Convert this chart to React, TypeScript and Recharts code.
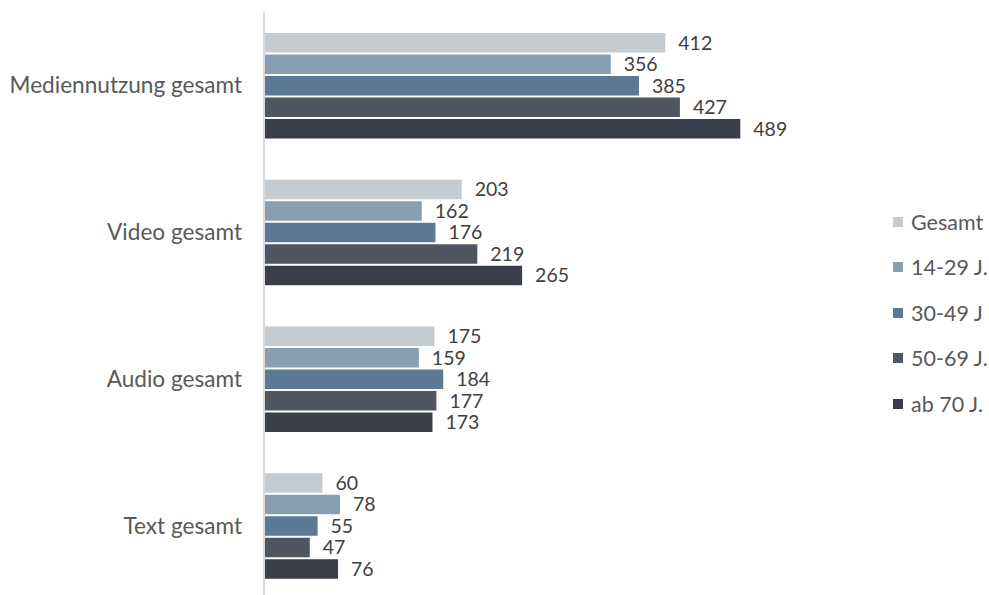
import { BarChart, Bar, XAxis, YAxis, Legend, LabelList } from 'recharts';

const categories = ['Mediennutzung gesamt', 'Video gesamt', 'Audio gesamt', 'Text gesamt'];
const gesamt = [412, 203, 175, 60];
const jahre14bis29 = [356, 162, 159, 78];
const jahre30bis49 = [385, 176, 184, 55];
const jahre50bis69 = [427, 219, 177, 47];
const ab70 = [489, 265, 173, 76];

const seriesNames = ['Gesamt', '14-29 J.', '30-49 J', '50-69 J.', 'ab 70 J.'];
const seriesColors = ['#c4ccd1', '#889fb2', '#5b7896', '#4f5562', '#3a3e4a'];
const seriesValues = [gesamt, jahre14bis29, jahre30bis49, jahre50bis69, ab70];

const data = categories.map((name, i) => {
  const row: Record<string, string | number> = { name };
  seriesNames.forEach((s, k) => {
    row[s] = seriesValues[k][i];
  });
  return row;
});

const FONT = 'Lato, "Open Sans", sans-serif';

// own legend so the order stays as in the source (recharts sorts by name)
function renderLegend() {
  return (
    <ul style={{ listStyle: 'none', margin: 0, padding: 0, fontFamily: FONT }}>
      {seriesNames.map((s, k) => (
        <li
          key={s}
          style={{ height: 45.5, display: 'flex', alignItems: 'center', color: '#595959', fontSize: 21.5, whiteSpace: 'nowrap' }}
        >
          <span style={{ width: 10, height: 10, background: seriesColors[k], display: 'inline-block', marginRight: 8, flex: 'none' }} />
          {s}
        </li>
      ))}
    </ul>
  );
}

export default function App() {
  return (
    <div style={{ position: 'absolute', left: 0, top: 0, width: 989, height: 595, overflow: 'hidden', background: '#fff' }}>
      <BarChart
        width={989}
        height={600}
        data={data}
        layout="vertical"
        margin={{ top: 12, right: 142, bottom: 1, left: 0 }}
        barSize={19.5}
        barGap={2}
      >
        <XAxis type="number" domain={[0, 500]} hide />
        <YAxis
          type="category"
          dataKey="name"
          width={264}
          axisLine={{ stroke: '#d9d9d9', strokeWidth: 2 }}
          tickLine={false}
          tickSize={0}
          tickMargin={22}
          tick={{ fill: '#595959', fontSize: 22.6, fontFamily: FONT }}
        />
        <Legend
          layout="vertical"
          align="right"
          verticalAlign="top"
          content={renderLegend}
          wrapperStyle={{ left: 893, top: 199, width: 96 }}
        />
        {seriesNames.map((s, k) => (
          <Bar key={s} dataKey={s} fill={seriesColors[k]} isAnimationActive={false}>
            <LabelList
              dataKey={s}
              position="right"
              offset={13}
              fill="#404040"
              fontSize={19.5}
              fontFamily={FONT}
            />
          </Bar>
        ))}
      </BarChart>
    </div>
  );
}
